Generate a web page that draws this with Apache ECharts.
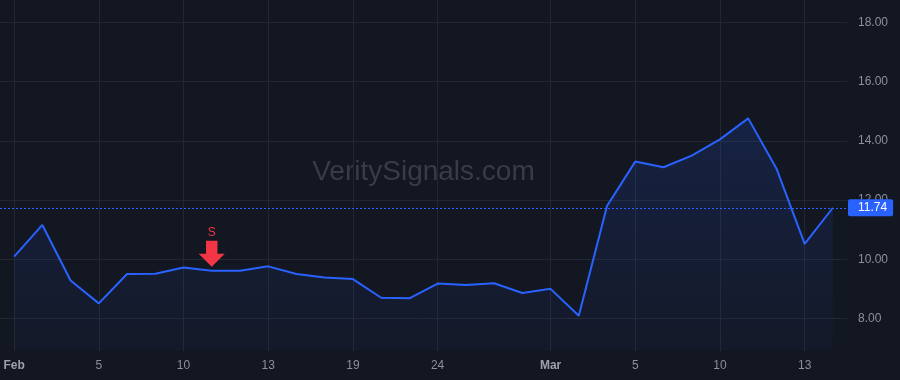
<!DOCTYPE html>
<html>
<head>
<meta charset="utf-8">
<style>
html,body{margin:0;padding:0;background:#131722;}
#chart{width:900px;height:380px;}
</style>
<script src="https://cdn.jsdelivr.net/npm/echarts@6/dist/echarts.min.js"></script>
</head>
<body>
<div id="chart"></div>
<script>
const dates = ["2026-02-02","2026-02-03","2026-02-04","2026-02-05","2026-02-06","2026-02-09","2026-02-10","2026-02-11","2026-02-12","2026-02-13",
  "2026-02-17","2026-02-18","2026-02-19","2026-02-20","2026-02-23","2026-02-24","2026-02-25","2026-02-26","2026-02-27",
  "2026-03-02","2026-03-03","2026-03-04","2026-03-05","2026-03-06","2026-03-09","2026-03-10","2026-03-11","2026-03-12","2026-03-13","2026-03-16"];
const tickLabels = ["Feb","","","5","","","10","","","13","","","19","","","24","","","","Mar","","","5","","","10","","","13",""];
const prices = [10.09,11.16,9.28,8.51,9.50,9.51,9.72,9.61,9.61,9.76,9.50,9.38,9.33,8.70,8.68,9.18,9.13,9.19,8.86,9.00,
  8.09,11.80,13.30,13.11,13.50,14.05,14.76,13.07,10.52,11.74];
const yTicks = [8,10,12,14,16,18];
const lastPrice = 11.74;
const signalIndex = 7;
const signalText = "S";
const watermark = "VeritySignals.com";

const FONT = '"Liberation Sans", Arial, sans-serif';
const chart = echarts.init(document.getElementById('chart'));
const showTick = (i) => tickLabels[i] !== "";
chart.setOption({
  backgroundColor: '#131722',
  animation: false,
  graphic: [{
    type: 'text', x: 423.5, y: 172, z: -10, silent: true,
    style: { text: watermark, fill: '#383c48', font: '28px "Liberation Sans", Arial, sans-serif', align: 'center', verticalAlign: 'middle' }
  }],
  grid: { left: 0, right: 53, top: 0, bottom: 29 },
  xAxis: {
    type: 'category',
    data: dates,
    boundaryGap: true,
    axisLine: { show: false },
    axisTick: { show: false },
    splitLine: { show: true, alignWithLabel: true, interval: (i) => showTick(i), lineStyle: { color: '#232732', width: 1 } },
    axisLabel: {
      interval: (i) => showTick(i),
      margin: 9,
      formatter: (v, i) => {
        const t = tickLabels[i];
        return (t === 'Feb' || t === 'Mar') ? '{b|' + t + '}' : t;
      },
      color: '#8c909b', fontSize: 12, fontFamily: FONT,
      rich: { b: { fontWeight: 'bold', color: '#9da1ab', fontSize: 12, fontFamily: FONT } }
    }
  },
  yAxis: {
    type: 'value',
    position: 'right',
    min: 6.90, max: 18.76,
    axisLine: { show: false },
    axisTick: { show: false, customValues: yTicks },
    splitLine: { show: true, lineStyle: { color: '#232732', width: 1 } },
    axisLabel: {
      customValues: yTicks,
      margin: 11, color: '#8c909b', fontSize: 12, fontFamily: FONT,
      formatter: (v) => v.toFixed(2)
    }
  },
  series: [{
    type: 'line',
    data: prices,
    symbol: 'none',
    lineStyle: { color: '#2962ff', width: 2 },
    areaStyle: {
      color: new echarts.graphic.LinearGradient(0, 0, 0, 1, [
        { offset: 0, color: 'rgba(41,98,255,0.22)' },
        { offset: 1, color: 'rgba(41,98,255,0.04)' }
      ])
    },
    markLine: {
      silent: true, symbol: 'none',
      lineStyle: { color: '#2962ff', type: [2, 2], width: 1 },
      label: {
        position: 'end', distance: 1,
        formatter: (p) => p.value.toFixed(2),
        color: '#ffffff', backgroundColor: '#2962ff', fontSize: 12, fontFamily: FONT,
        padding: [3, 6, 2, 10], borderRadius: 2
      },
      data: [{ yAxis: lastPrice }]
    },
    markPoint: {
      silent: true,
      data: [{
        coord: [signalIndex, prices[signalIndex]],
        symbol: 'path://M7,0 L18,0 L18,12.5 L25,12.5 L12.5,25 L0,12.5 L7,12.5 Z',
        symbolSize: [26, 26],
        symbolKeepAspect: false,
        symbolOffset: [0, -17],
        itemStyle: { color: '#f23645' },
        label: { show: true, formatter: signalText, position: 'top', distance: 2, color: '#f23645', fontSize: 12, fontFamily: FONT }
      }]
    }
  }]
});
</script>
</body>
</html>
